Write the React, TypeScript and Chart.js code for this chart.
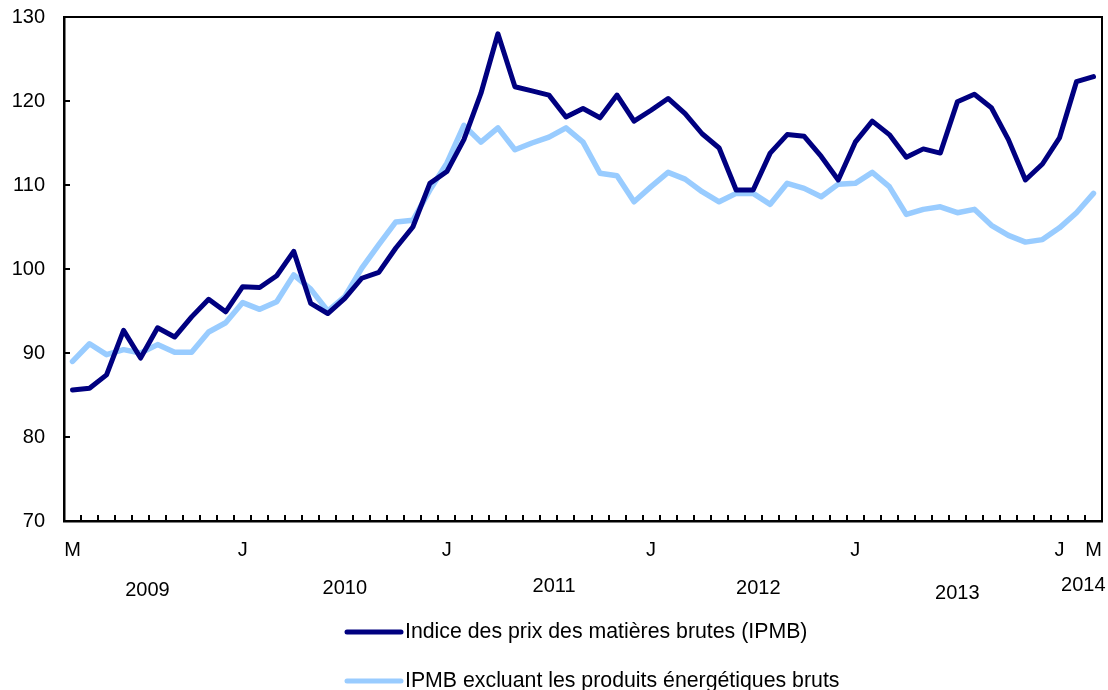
import React, { useEffect, useRef } from "react";
import { Chart, registerables } from "chart.js";

Chart.register(...registerables);

// Monthly categories, March 2009 to March 2014
const categories = [
  "2009-03", "2009-04", "2009-05", "2009-06", "2009-07", "2009-08", "2009-09", "2009-10", "2009-11", "2009-12",
  "2010-01", "2010-02", "2010-03", "2010-04", "2010-05", "2010-06", "2010-07", "2010-08", "2010-09", "2010-10", "2010-11", "2010-12",
  "2011-01", "2011-02", "2011-03", "2011-04", "2011-05", "2011-06", "2011-07", "2011-08", "2011-09", "2011-10", "2011-11", "2011-12",
  "2012-01", "2012-02", "2012-03", "2012-04", "2012-05", "2012-06", "2012-07", "2012-08", "2012-09", "2012-10", "2012-11", "2012-12",
  "2013-01", "2013-02", "2013-03", "2013-04", "2013-05", "2013-06", "2013-07", "2013-08", "2013-09", "2013-10", "2013-11", "2013-12",
  "2014-01", "2014-02", "2014-03",
];

// Indice des prix des matières brutes (IPMB)
const ipmb = [
  85.6, 85.8, 87.4, 92.7, 89.4, 93.0, 91.9, 94.3, 96.4, 94.9,
  97.9, 97.8, 99.2, 102.1, 95.9, 94.7, 96.5, 98.9, 99.6, 102.5,
  105.0, 110.2, 111.6, 115.4, 120.9, 128.0, 121.7, 121.2, 120.7, 118.1,
  119.1, 118.0, 120.7, 117.6, 118.9, 120.3, 118.5, 116.1, 114.4, 109.4,
  109.4, 113.8, 116.0, 115.8, 113.4, 110.6, 115.1, 117.6, 116.0, 113.3,
  114.3, 113.8, 119.9, 120.8, 119.2, 115.4, 110.6, 112.5, 115.6, 122.3,
  122.9,
];

// IPMB excluant les produits énergétiques bruts
const ipmbExEnergy = [
  89.0, 91.1, 89.8, 90.4, 90.0, 91.0, 90.1, 90.1, 92.5, 93.6,
  96.0, 95.2, 96.1, 99.3, 97.6, 95.0, 96.7, 100.1, 102.9, 105.6,
  105.8, 109.4, 112.6, 117.1, 115.1, 116.8, 114.2, 115.0, 115.7, 116.8,
  115.1, 111.4, 111.1, 108.0, 109.8, 111.5, 110.7, 109.2, 108.0, 109.0,
  109.0, 107.7, 110.2, 109.6, 108.6, 110.1, 110.2, 111.5, 109.8, 106.5,
  107.1, 107.4, 106.7, 107.1, 105.2, 104.0, 103.2, 103.5, 104.9, 106.7,
  109.0,
];

const seriesNames = [
  "Indice des prix des matières brutes (IPMB)",
  "IPMB excluant les produits énergétiques bruts",
];

// Month tick labels (category index -> letter)
const monthTickIndices = [0, 10, 22, 34, 46, 58, 60];
const monthTickTexts = ["M", "J", "J", "J", "J", "J", "M"];

// Year labels and the (fractional) category index they are centred on
const yearLabels = ["2009", "2010", "2011", "2012", "2013", "2014"];
const yearAnchors = [4.4, 16.0, 28.3, 40.3, 52.0, 59.4];
const yearLabelY = [590, 588, 586, 588, 593, 585];

const yMin = 70;
const yMax = 130;
const yStep = 10;

const FONT = "'Liberation Sans', Arial, Helvetica, sans-serif";
const DARK = "#000080";
const LIGHT = "#99CCFF";

const decorPlugin = {
  id: "decor",
  afterDatasetsDraw(chart: any) {
    const { ctx, chartArea, scales } = chart;
    const xs = scales.x;
    const ys = scales.y;
    ctx.save();
    ctx.strokeStyle = "#000";
    // top and right frame
    ctx.lineWidth = 2;
    ctx.beginPath();
    ctx.moveTo(chartArea.left, chartArea.top);
    ctx.lineTo(chartArea.right, chartArea.top);
    ctx.lineTo(chartArea.right, chartArea.bottom);
    ctx.stroke();
    // x tick marks at category boundaries, pointing inward
    ctx.lineWidth = 2;
    ctx.beginPath();
    for (let k = 1; k < categories.length; k++) {
      const x = Math.round((xs.getPixelForValue(k - 1) + xs.getPixelForValue(k)) / 2);
      ctx.moveTo(x, chartArea.bottom);
      ctx.lineTo(x, chartArea.bottom - 6);
    }
    // y tick marks pointing inward
    for (let v = yMin + yStep; v < yMax; v += yStep) {
      const y = Math.round(ys.getPixelForValue(v));
      ctx.moveTo(chartArea.left, y);
      ctx.lineTo(chartArea.left + 6, y);
    }
    ctx.stroke();

    // year labels
    ctx.fillStyle = "#000";
    ctx.font = `20px ${FONT}`;
    ctx.textAlign = "center";
    ctx.textBaseline = "middle";
    yearLabels.forEach((lab, i) => {
      const a = yearAnchors[i];
      const i0 = Math.floor(a);
      const i1 = Math.min(i0 + 1, categories.length - 1);
      const p0 = xs.getPixelForValue(i0);
      const p1 = xs.getPixelForValue(i1);
      const x = p0 + (p1 - p0) * (a - i0);
      ctx.fillText(lab, x, yearLabelY[i]);
    });

    // legend
    const legendColors = [DARK, LIGHT];
    const legendY = [632, 681];
    ctx.textAlign = "left";
    ctx.font = `21.3px ${FONT}`;
    seriesNames.forEach((name, i) => {
      ctx.strokeStyle = legendColors[i];
      ctx.lineWidth = 5;
      ctx.lineCap = "round";
      ctx.beginPath();
      ctx.moveTo(347, legendY[i]);
      ctx.lineTo(401, legendY[i]);
      ctx.stroke();
      ctx.fillStyle = "#000";
      ctx.fillText(name, 405, legendY[i]);
    });
    ctx.restore();
  },
};

export default function App() {
  const canvasRef = useRef<HTMLCanvasElement | null>(null);

  useEffect(() => {
    const canvas = canvasRef.current;
    if (!canvas) return;
    const chart = new Chart(canvas, {
      type: "line",
      data: {
        labels: categories,
        datasets: [
          {
            label: seriesNames[0],
            data: ipmb,
            borderColor: DARK,
            backgroundColor: DARK,
            borderWidth: 5,
            pointRadius: 0,
            tension: 0,
            fill: false,
          },
          {
            label: seriesNames[1],
            data: ipmbExEnergy,
            borderColor: LIGHT,
            backgroundColor: LIGHT,
            borderWidth: 5.5,
            pointRadius: 0,
            tension: 0,
            fill: false,
          },
        ],
      },
      options: {
        animation: false,
        responsive: false,
        devicePixelRatio: 1,
        layout: { padding: { top: 17, right: 6, left: 0, bottom: 0 } },
        elements: { line: { borderJoinStyle: "round", borderCapStyle: "round" } },
        plugins: {
          legend: { display: false },
          tooltip: { enabled: false },
        },
        scales: {
          x: {
            type: "category",
            offset: true,
            grid: { display: false, drawTicks: false },
            border: { display: true, color: "#000", width: 2.5 },
            ticks: {
              autoSkip: false,
              maxRotation: 0,
              minRotation: 0,
              color: "#000",
              padding: 17,
              font: { family: FONT, size: 20 },
              callback: (_v: any, i: number) => {
                const k = monthTickIndices.indexOf(i);
                return k >= 0 ? monthTickTexts[k] : "";
              },
            },
            afterFit: (s: any) => {
              s.height = 169;
              s.paddingLeft = 0;
              s.paddingRight = 0;
            },
          },
          y: {
            min: yMin,
            max: yMax,
            grid: { display: false, drawTicks: false },
            border: { display: true, color: "#000", width: 2.5 },
            ticks: {
              stepSize: yStep,
              color: "#000",
              padding: 19,
              font: { family: FONT, size: 20 },
            },
            afterFit: (s: any) => {
              s.width = 64;
              s.paddingTop = 0;
              s.paddingBottom = 0;
            },
          },
        },
      },
      plugins: [decorPlugin],
    });
    return () => chart.destroy();
  }, []);

  return (
    <div style={{ position: "absolute", left: 0, top: 0, width: 1108, height: 690, background: "#fff" }}>
      <canvas ref={canvasRef} width={1108} height={690} style={{ display: "block", width: 1108, height: 690 }} />
    </div>
  );
}
